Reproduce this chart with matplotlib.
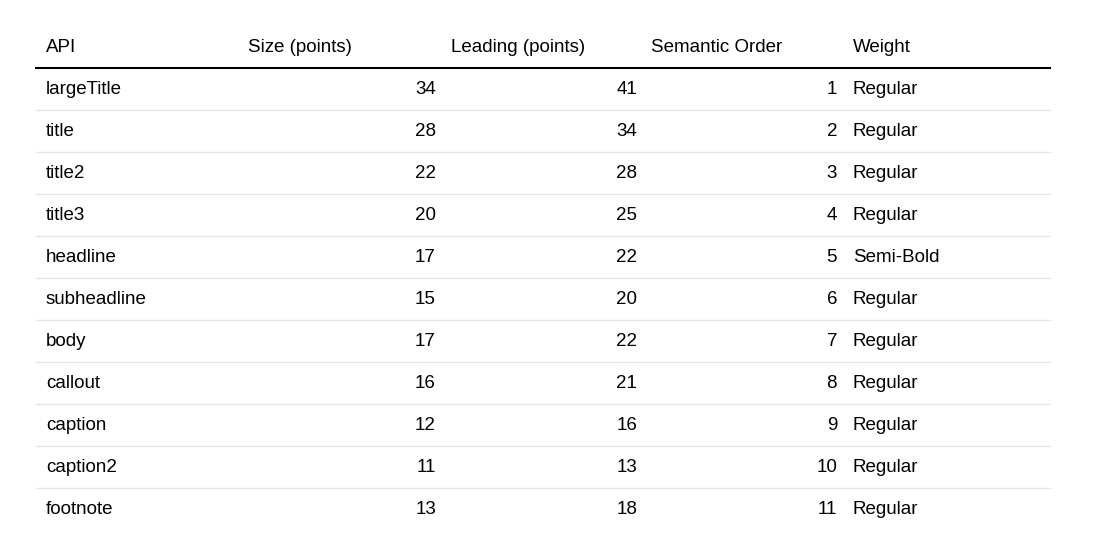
import matplotlib
matplotlib.use("Agg")
import matplotlib.pyplot as plt

headers = ["API", "Size (points)", "Leading (points)", "Semantic Order", "Weight"]
api = ["largeTitle","title","title2","title3","headline","subheadline","body","callout","caption","caption2","footnote"]
size = [34,28,22,20,17,15,17,16,12,11,13]
leading = [41,34,28,25,22,20,22,21,16,13,18]
order = [1,2,3,4,5,6,7,8,9,10,11]
weight = ["Regular","Regular","Regular","Regular","Semi-Bold","Regular","Regular","Regular","Regular","Regular","Regular"]

W, H = 1096, 556
fig = plt.figure(figsize=(W/100, H/100), dpi=100)
ax = fig.add_axes([0, 0, 1, 1])
ax.set_xlim(0, W); ax.set_ylim(H, 0); ax.axis("off")
fs = 13.5
fam = ["Liberation Sans", "DejaVu Sans"]
hx = [(46,"left"),(248,"left"),(451,"left"),(651,"left"),(853,"left")]
for (x, ha), t in zip(hx, headers):
    ax.text(x, 47, t, ha=ha, va="center", fontsize=fs, family=fam)
ax.plot([36, 1050], [68, 68], color="black", lw=1.5)
for i in range(len(api)):
    y = 89 + 42*i
    ax.text(46, y, api[i], ha="left", va="center", fontsize=fs, family=fam)
    ax.text(436, y, str(size[i]), ha="right", va="center", fontsize=fs, family=fam)
    ax.text(637, y, str(leading[i]), ha="right", va="center", fontsize=fs, family=fam)
    ax.text(837, y, str(order[i]), ha="right", va="center", fontsize=fs, family=fam)
    ax.text(853, y, weight[i], ha="left", va="center", fontsize=fs, family=fam)
    if i < len(api)-1:
        ax.plot([36, 1050], [y+21, y+21], color="#e6e6e6", lw=1)
fig.savefig("out.png", dpi=100)
